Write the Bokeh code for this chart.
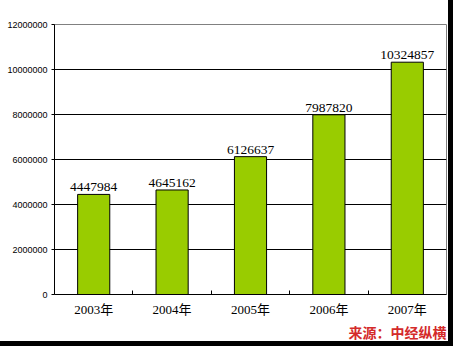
from bokeh.plotting import figure
from bokeh.models import (ColumnDataSource, LabelSet, LinearAxis,
                          Range1d, FixedTicker, BasicTickFormatter)
from bokeh.embed import file_html
from bokeh.resources import INLINE
from bokeh.core.properties import value

categories = ["2003年", "2004年", "2005年", "2006年", "2007年"]
values = [4447984, 4645162, 6126637, 7987820, 10324857]
y_ticks = [0, 2000000, 4000000, 6000000, 8000000, 10000000, 12000000]
source_text = "来源：中经纵横"

n = len(categories)
xpos = list(range(n))
src = ColumnDataSource(dict(x=xpos, val=values, lab=[str(v) for v in values]))

p = figure(width=448, height=341, x_range=Range1d(-0.5, n - 0.5),
           y_range=Range1d(0, 12000000), output_backend="svg", toolbar_location=None,
           x_axis_location=None, y_axis_location=None,
           min_border_left=54, min_border_right=2, min_border_top=24, min_border_bottom=36)
p.styles = {"outline": "5px solid black"}
p.background_fill_color = "white"
p.border_fill_color = "white"
p.outline_line_color = "#808080"
p.outline_line_width = 1

p.vbar(x="x", top="val", width=0.41, source=src, fill_color="#99CC00",
       line_color="black", line_width=1)

# y axis
yax = LinearAxis(ticker=FixedTicker(ticks=y_ticks),
                 formatter=BasicTickFormatter(use_scientific=False))
yax.major_label_text_font = "Liberation Sans"
yax.major_label_text_font_size = "9px"
yax.major_label_text_color = "black"
yax.major_tick_out = 3
yax.major_tick_in = 0
yax.minor_tick_line_color = None
yax.major_label_standoff = 4
yax.axis_line_color = "black"
p.add_layout(yax, "left")

p.ygrid.grid_line_color = "black"
p.ygrid.ticker = FixedTicker(ticks=y_ticks)
p.xgrid.grid_line_color = None

# x axis: labels at bar centres, small inward ticks at category boundaries
xax = LinearAxis(ticker=FixedTicker(ticks=xpos, minor_ticks=[i + 0.5 for i in xpos[:-1]]))
xax.major_label_overrides = {i: c for i, c in zip(xpos, categories)}
xax.major_tick_line_color = None
xax.major_tick_in = 0
xax.major_tick_out = 0
xax.minor_tick_in = 4
xax.minor_tick_out = 0
xax.minor_tick_line_color = "black"
xax.axis_line_color = "black"
xax.major_label_text_font = "Liberation Serif, Noto Sans CJK SC"
xax.major_label_text_font_size = "13px"
xax.major_label_text_color = "black"
xax.major_label_standoff = 7
p.add_layout(xax, "below")

# source note as a right-aligned title below the chart
p.title_location = "below"
p.title.text = source_text
p.title.align = "right"
p.title.text_font = "Noto Sans CJK SC"
p.title.text_font_size = "14px"
p.title.text_font_style = "bold"
p.title.text_color = "#d42a2a"
p.title.standoff = 0
p.title.offset = 0

labels = LabelSet(x="x", y="val", text="lab", source=src, text_align="center",
                  text_baseline="bottom", y_offset=3,
                  text_font=value("Liberation Serif"), text_font_size="13.5px",
                  text_color="black")
p.add_layout(labels)

open("out.html", "w").write(file_html(p, INLINE))
